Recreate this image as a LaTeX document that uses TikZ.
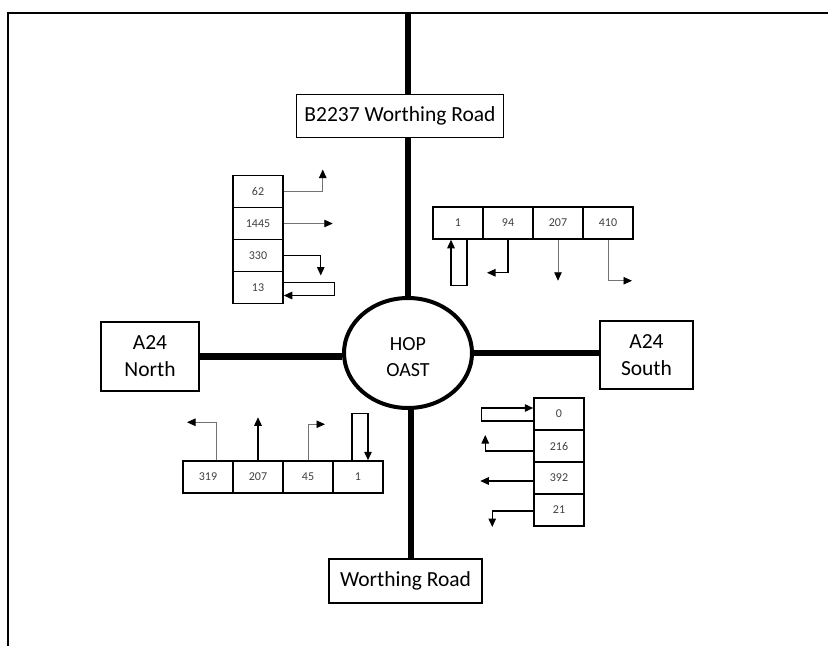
\documentclass[tikz,border=0pt]{standalone}
\usepackage{fontspec}
\setmainfont{Carlito}
\usetikzlibrary{shapes.geometric,arrows.meta,calc,backgrounds}
\begin{document}
\begin{tikzpicture}[x=1pt,y=-1pt,
  road/.style={line width=6.5pt},
  roadbox/.style={draw,line width=1.6pt,fill=white,inner sep=0pt,align=center,font=\fontsize{21.5}{27}\selectfont},
  cell/.style={draw,line width=1.5pt,fill=white,minimum width=50pt,minimum height=32pt,inner sep=0pt,font=\fontsize{12}{14}\selectfont,text=black!75},
  arr/.style={line width=0.8pt,black!55,-{Triangle[length=8.5pt,width=7.5pt,black]}},
  arrk/.style={line width=1.3pt,black,-{Triangle[length=8.5pt,width=7.5pt]}},
  frame/.style={line width=2pt}]
\useasboundingbox (0,0) rectangle (828,646);
% frame
\draw[frame] (828,13) -- (8,13) -- (8,646);
% road boxes and hub
\node[roadbox,minimum width=207pt,minimum height=43pt] (b2237) at (400,116) {B2237 Worthing Road};
\node[roadbox,minimum width=153pt,minimum height=44pt] (worth) at (405.5,581) {Worthing Road};
\node[roadbox,minimum width=98pt,minimum height=69pt] (north) at (150,356.5) {A24\\North};
\node[roadbox,minimum width=93pt,minimum height=68pt] (south) at (646.5,355) {A24\\South};
\node[draw,ellipse,line width=4pt,fill=white,minimum width=128pt,minimum height=110pt,inner sep=0pt] (hub) at (408,353) {};
\node[align=center,inner sep=0pt,font=\fontsize{20}{26}\selectfont] (hubtext) at (408,357) {HOP\\OAST};
\coordinate (topend) at (408,13);
\begin{scope}[on background layer]
\draw[road] (topend) -- (hub.north);
\draw[road] ($(hub.south)+(3,0)$) -- ($(worth.north)+(5.5,0)$);
\draw[road] (north.east) -- (north.east -| hub.west);
\draw[road] (hub.east) -- (hub.east -| south.west);
\end{scope}
% top-left table
\node[cell] (tl1) at (258,191.5) {62};
\node[cell] (tl2) at (258,223.5) {1445};
\node[cell] (tl3) at (258,255.5) {330};
\node[cell] (tl4) at (258,287.5) {13};
\draw[arr] (tl1.east) -- ++(39,0) -- ++(0,-22);
\draw[arr] (tl2.east) -- ++(49,0);
\draw[arrk] (tl3.east) -- ++(37,0) -- ++(0,20);
\draw[arrk] ($(tl4.east)+(0,-5)$) -- ++(51,0) -- ++(0,13) -- ($(tl4.east)+(0,8)$);
% top-right table
\node[cell] (tr1) at (458,223) {1};
\node[cell] (tr2) at (508,223) {94};
\node[cell] (tr3) at (558,223) {207};
\node[cell] (tr4) at (608,223) {410};
\draw[arrk] ($(tr1.south)+(9,0)$) -- ++(0,46) -- ++(-16,0) -- ($(tr1.south)+(-7,0)$);
\draw[arrk] (tr2.south) -- ++(0,33) -- ++(-21,0);
\draw[arr] (tr3.south) -- ++(0,41);
\draw[arr] (tr4.south) -- ++(0,41) -- ++(24,0);
% bottom-left table
\node[cell] (bl1) at (208,477) {319};
\node[cell] (bl2) at (258,477) {207};
\node[cell] (bl3) at (308,477) {45};
\node[cell] (bl4) at (358,477) {1};
\draw[arr] ($(bl1.north)+(8,0)$) -- ++(0,-38) -- ++(-29,0);
\draw[arrk] (bl2.north) -- ++(0,-43);
\draw[arr] (bl3.north) -- ++(0,-36) -- ++(17,0);
\draw[arrk] ($(bl4.north)+(-6,0)$) -- ++(0,-47) -- ++(16,0) -- ($(bl4.north)+(10,0)$);
% bottom-right table
\node[cell] (br1) at (559,414) {0};
\node[cell] (br2) at (559,446) {216};
\node[cell] (br3) at (559,478) {392};
\node[cell] (br4) at (559,510) {21};
\draw[arrk] ($(br1.west)+(0,7)$) -- ++(-52,0) -- ++(0,-13) -- ($(br1.west)+(0,-6)$);
\draw[arrk] ($(br2.west)+(0,5)$) -- ++(-48,0) -- ++(0,-16);
\draw[arrk] ($(br3.west)+(0,3)$) -- ++(-53,0);
\draw[arrk] ($(br4.west)+(0,1)$) -- ++(-41,0) -- ++(0,16);
\end{tikzpicture}
\end{document}
